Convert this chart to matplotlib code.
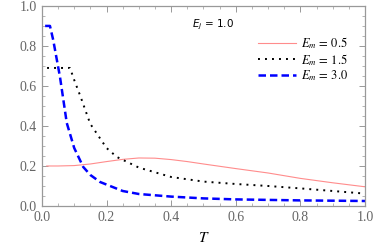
"""Order parameter vs temperature for several E_m values."""

import matplotlib
matplotlib.use("Agg")
import matplotlib.pyplot as plt
from matplotlib.ticker import MultipleLocator

plt.rcParams["font.family"] = ["Liberation Serif", "DejaVu Serif"]
plt.rcParams["mathtext.fontset"] = "stix"

# E_m = 0.5
t_05 = [0.015, 0.05, 0.1, 0.15, 0.2, 0.25, 0.3, 0.35, 0.4, 0.45, 0.5, 0.6, 0.7, 0.8, 0.9, 1.0]
v_05 = [0.2, 0.2, 0.202, 0.21, 0.222, 0.233, 0.24, 0.239, 0.232, 0.222, 0.21, 0.187, 0.165, 0.138, 0.116, 0.096]

# E_m = 1.5
t_15 = [0.016, 0.05, 0.087, 0.1, 0.12, 0.142, 0.15, 0.2, 0.232, 0.3, 0.4, 0.5, 0.6, 0.7, 0.8, 0.9, 1.0]
v_15 = [0.69, 0.69, 0.69, 0.63, 0.545, 0.445, 0.41, 0.29, 0.245, 0.192, 0.145, 0.122, 0.11, 0.1, 0.088, 0.075, 0.062]

# E_m = 3.0
t_30 = [0.01, 0.025, 0.035, 0.056, 0.077, 0.1, 0.128, 0.15, 0.18, 0.25, 0.3, 0.4, 0.5, 0.6, 0.8, 1.0]
v_30 = [0.9, 0.9, 0.83, 0.645, 0.415, 0.29, 0.195, 0.155, 0.12, 0.075, 0.06, 0.047, 0.038, 0.033, 0.028, 0.025]

labels = [r"$E_m\,=\,0.5$", r"$E_m\,=\,1.5$", r"$E_m\,=\,3.0$"]

fig = plt.figure(figsize=(3.74, 2.47), dpi=100)
ax = fig.add_axes([0.112, 0.166, 0.864, 0.81])

ax.plot(t_05, v_05, color="#ff8c8c", lw=0.8, label=labels[0])
ax.plot(t_15, v_15, color="black", lw=1.4, linestyle=(0, (1, 2.6)), label=labels[1])
ax.plot(t_30, v_30, color="#0000ff", lw=1.8, linestyle=(0, (3, 1.6)), label=labels[2])

ax.set_xlim(0, 1)
ax.set_ylim(0, 1)
ax.xaxis.set_major_locator(MultipleLocator(0.2))
ax.xaxis.set_minor_locator(MultipleLocator(0.05))
ax.yaxis.set_major_locator(MultipleLocator(0.2))
ax.yaxis.set_minor_locator(MultipleLocator(0.05))
ax.xaxis.set_major_formatter(plt.FormatStrFormatter("%.1f"))
ax.yaxis.set_major_formatter(plt.FormatStrFormatter("%.1f"))
ax.tick_params(which="both", direction="in", top=True, right=True,
               color="#999999", labelcolor="#666666", labelsize=10)
ax.tick_params(which="major", length=4, width=0.7)
ax.tick_params(which="minor", length=2, width=0.5)
for s in ax.spines.values():
    s.set_color("#999999")
    s.set_linewidth(0.9)

ax.set_xlabel(r"$T$", fontsize=11, labelpad=5)
ax.text(0.465, 0.905, r"$E_j$ = 1.0", transform=ax.transAxes, fontsize=7.5,
        family="DejaVu Sans", math_fontfamily="dejavusans", va="center")

ax.legend(loc="upper right", bbox_to_anchor=(0.97, 0.89), frameon=False,
          fontsize=9, handlelength=3.0, handletextpad=0.4, labelspacing=0.05,
          borderpad=0.1)

fig.savefig("out.png", dpi=100)
plt.close(fig)
